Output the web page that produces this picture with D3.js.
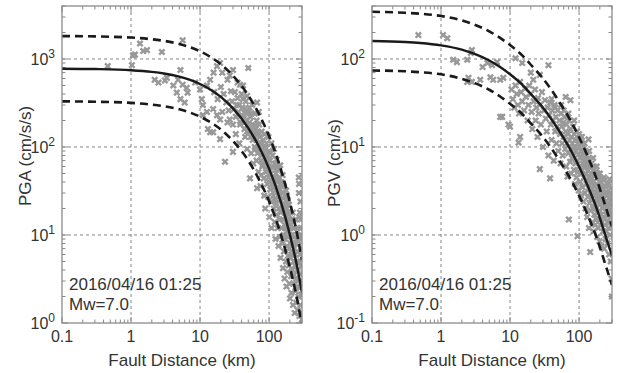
<!DOCTYPE html>
<html>
<head>
<meta charset="utf-8">
<script src="https://cdn.jsdelivr.net/npm/d3@7"></script>
<style>
  body { margin: 0; background: #fff; }
  svg { display: block; }
  text { font-family: "Liberation Sans", Arial, sans-serif; fill: #333; }
</style>
</head>
<body>
<div id="chart"></div>
<script>
// x tick labels shared by both panels
const distTicks = [0.1, 1, 10, 100];
const distTickLabels = ["0.1", "1", "10", "100"];

// PGA attenuation curve (median and +/- 1 sigma)
const pgaCurveDist = [0.1, 0.3, 1, 2, 3, 5, 7, 10, 15, 20, 30, 50, 70, 100, 150, 200, 250, 300];
const pgaMedian = [775, 768, 745, 713, 684, 630, 582, 520, 436, 371, 275, 164, 104, 56.8, 23, 10.1, 4.7, 2.2];
const pgaUpper  = [1821, 1805, 1751, 1676, 1607, 1481, 1368, 1222, 1025, 872, 646, 385, 244, 133, 54, 23.7, 11, 5.2];
const pgaLower  = [330, 327, 317, 303, 291, 268, 248, 221, 186, 158, 117, 70, 44, 24.2, 9.8, 4.3, 2.0, 0.94];

// PGV attenuation curve
const pgvCurveDist = [0.1, 0.3, 0.5, 1, 2, 3, 5, 7, 10, 15, 20, 30, 50, 80, 100, 130, 180, 250, 300];
const pgvMedian = [160, 156, 152, 143, 128, 115, 96, 82, 67, 51, 40, 28, 15.8, 8.5, 6.0, 3.8, 2.0, 0.9, 0.58];
const pgvUpper  = [344, 335, 327, 308, 275, 247, 206, 176, 144, 110, 86, 60, 34, 18.3, 12.9, 8.2, 4.3, 1.94, 1.25];
const pgvLower  = [74, 72.5, 70.7, 67, 59.5, 53.5, 44.7, 38, 31, 23.7, 18.6, 13, 7.35, 3.95, 2.8, 1.77, 0.93, 0.42, 0.27];

// observed PGA [fault distance km, cm/s/s]
const pgaObs = [
  [0.46,830],[1.03,850],[1.07,1100],[1.14,1120],[1.35,1500],[1.5,1230],[1.7,1260],[2.8,1200],[5.6,1630],
  [2.2,580],[2.5,540],[3.1,570],[3.3,610],[5.2,750],[4.8,580],[5.6,510],[6.4,470],[4.1,500],[4.6,415],
  [6.6,415],[5.2,350],[6.0,320],[8.5,540],[10,450],[10.6,350],
  [12.6,500],[14,580],[15.7,700],[17.6,830],[19.5,900],[21,700],[25,580],[27,650],[30,750],
  [11,300],[12.6,250],[15.5,270],[17.6,230],[19.5,205],[21,250],[25,190],[27,205],[30,180],[13,160],[15.5,147],
  [50,790],[38,510],[42,500],[35,540],[48,380],[67,320],[23,68],[19.5,123],[14,147],[11,230],[30,88],
  [16,420],[18,350],[20,480],[22,400],[24,320],[26,260],[28,430],[29,330],[31,270],[33,220],[35,360],[37,300],
  [38,180],[40,230],[42,350],[44,270],[46,200],[48,150],[50,250],[52,190],[54,130],[56,240],[58,180],[60,140],
  [62,100],[64,160],[66,120],[68,85],[70,140],[74,110],[78,80],[80,60],[85,100],[90,75],[95,55],[100,40],
  [105,85],[110,60],[115,45],[120,35],[125,25],[130,60],[135,42],[140,30],[150,40],[160,20],[170,12],[180,28],
  [190,18],[200,12],[210,6],[220,18],[230,12],[240,15],[250,9],[260,12],[265,5],[280,18],[290,15],[295,10],
  [285,24],[275,16],
  [32,420],[34,300],[36,250],[33,140],[37,110],[40,400],[41,280],[43,210],[44,160],[39,190],[46,330],[47,240],
  [49,180],[45,130],[48,95],
  [52,280],[53,44],[54,220],[56,160],[57,300],[58,120],[51,150],[55,85],[59,65],[62,240],[63,175],[61,130],
  [64,95],[66,200],[67,34],[68,150],[69,110],[66,70],[70,52],
  [72,180],[73,130],[74,95],[71,250],[76,70],[77,48],[78,150],[79,110],[75,36],[82,120],[83,85],[81,62],
  [84,44],[85,28],[86,140],[87,95],[88,20],[89,70],[90,52],
  [92,110],[93,80],[94,38],[96,60],[97,27],[98,130],[99,45],[100,90],[101,16],[103,70],[104,33],[106,50],
  [107,24],[108,110],[109,12],
  [112,80],[113,38],[114,58],[116,28],[117,20],[118,95],[119,44],[121,14],[122,65],[123,32],[124,9],[126,50],
  [127,23],[128,72],[129,17],
  [132,40],[133,12],[134,56],[136,28],[137,7.5],[138,20],[139,45],[141,34],[142,15],[143,9.5],[145,62],
  [146,25],[147,5.5],[148,18],[149,38],
  [152,12],[153,30],[155,22],[156,8],[157,48],[158,15],[159,4.2],[161,26],[162,10],[163,36],[164,6.5],
  [166,19],[167,13],[168,3.2],[169,28],
  [172,9],[173,22],[174,16],[176,5],[177,32],[178,11],[179,2.6],[181,20],[182,7.5],[183,14],[184,3.8],
  [186,25],[187,9.5],[188,5.8],[189,17],
  [192,12],[193,4.5],[194,22],[196,7],[197,2.8],[198,15],[199,10],[201,1.9],[203,18],[204,5.5],[206,8],
  [207,13],[209,3.4],[211,2.2],
  [214,10],[215,6],[217,15],[218,4],[220,8],[222,1.6],[223,12],[225,2.8],[227,5],[229,7],[231,3.5],[233,9.5],
  [235,1.3],[237,4.5],[239,6],
  [242,2.3],[244,8],[246,3.2],[248,1.7],[250,5],[253,11],[255,2.6],[257,4],[259,1.4],[262,6.5],[264,3],
  [266,2],[268,8.5],[270,45],[272,38],[271,30],
  [274,4.8],[276,1.2],[278,2.5],[280,6],[282,3.6],[284,1.6],[286,12],[288,9],[290,2.1],[292,4.4],[294,1.3],
  [296,7],[298,3],[299,1.1]
];

// observed PGV [fault distance km, cm/s]
const pgvObs = [
  [0.47,187],[1.07,187],[1.23,172],[1.5,98],[1.7,92],[2.7,117],[2.8,126],[2.4,98],[4,81],[4.7,90],[5.5,85],
  [6.5,92],[2.5,61],[2.8,55],[3.7,58],[2.4,55],[5.2,62],[5.7,58],[7.2,58],[8,61],[7.2,22],[9.5,18],[7.7,22],
  [12,102],[15,90],[36,85],[20,70],[21.7,58],[27,66],[13.3,11.2],[27,5.6],[38,4.4],[64,37],[75,34],[95,12],
  [10,17],[14,13],[137,12.2],
  [40,35],[45,28],[55,30],[60,26],[70,24],[85,20],[100,14],[110,13],[120,11],[140,9],[160,7.5],[180,6],
  [200,5],[230,4.5],[260,3.8],[290,3.4],
  [10.5,45],[11,35],[11.5,28],[12,50],[12.5,40],[13,30],[13.5,24],[14,55],[14.5,42],[15,33],[16,26],[16.5,46],
  [17,37],[18,20],[18.5,30],[19,50],[20,40],[20.5,25],[21,16],[22,33],[23,45],[23.5,20],[24,28],[25,13],
  [25.5,36],[26,24],[27,30],[28,18],[29,42],[30,10],[31,26],[32,34],[33,21],[34,15],[35,28],[36,8],[37,23],
  [38,32],[39,18],[40,12],[41,26],[42,20],[43,7],[44,30],[45,15],[46,22],[47,11],[48,17],[49,26],[50,9],
  [52,20],[53,14],[54,6.5],[55,24],[56,17],[57,11],[58,8],[59,19],[60,13],[62,22],[63,9.5],[64,15],[65,6],
  [66,18],[67,11],[68,4.6],[69,14],[70,8.5],[71,1.5],[72,20],[73,12],[74,6.8],[75,16],[76,9.5],[77,5],[78,13],
  [79,7.5],[80,11],
  [82,17],[83,8],[84,5.5],[85,14],[86,10],[87,3.8],[88,12],[89,6.5],[90,9],[92,4.5],[93,15],[94,7],[95,0.97],
  [96,11],[97,5.2],[98,8.2],[99,3.2],[101,10],[102,6],[103,13],[104,4],[105,7.5],[107,2.8],[108,9],[109,5],
  [110,11],[112,3.5],[113,6.5],[114,8],[116,2.4],[117,10],[118,4.5],[119,5.8],
  [121,7],[122,3],[123,9],[124,2],[125,5],[127,6.2],[128,3.8],[129,8],[131,1.6],[132,4.2],[133,6.8],[134,2.7],
  [136,5.4],[137,3.4],[138,7.5],[139,1.2],[141,4.6],[142,2.3],[143,6],[145,0.64],[146,3],[147,5],[148,1.9],
  [149,3.9],
  [152,6.5],[153,2.6],[154,4.4],[156,1.4],[157,3.4],[158,5.4],[159,2],[161,4],[162,1.1],[163,2.9],[164,6],
  [166,1.7],[167,3.6],[168,2.3],[169,4.8],
  [172,1.3],[173,3],[174,5.2],[176,2],[177,3.8],[178,1.5],[179,2.6],[181,4.4],[183,0.95],[184,3.3],[186,1.8],
  [187,5],[188,2.4],[189,1.2],
  [192,3.6],[193,1.5],[194,2.8],[196,4.5],[197,1.9],[198,0.85],[199,2.2],[202,3.2],[204,1.3],[206,2.5],[208,4],
  [210,1.7],[212,0.75],[214,2.9],[216,1.4],[218,3.5],[220,2],
  [223,1.1],[225,2.6],[227,4.2],[229,1.6],[231,0.7],[233,3],[235,2.1],[237,1.3],[240,3.6],[242,0.9],[244,2.4],
  [246,1.7],[248,3.1],[250,1.1],
  [253,2],[255,2.8],[257,1.4],[259,0.8],[262,2.2],[264,3.6],[266,1.7],[268,1.2],[270,2.6],[272,0.6],[274,1.9],
  [276,4.3],[278,1.4],[280,3],[282,1],[284,2.2],[286,1.6],[288,0.5],[290,2.5],[292,1.26],[294,1.8],[296,0.32],
  [298,2.9],[299,0.2]
];

const eventDate = "2016/04/16 01:25";
const eventMag = "Mw=7.0";

const W = 617, H = 373;
const svg = d3.select("#chart").append("svg").attr("width", W).attr("height", H);

function drawPanel(p) {
  const x = d3.scaleLog().domain([0.1, 300]).range([p.left, p.right]);
  const y = d3.scaleLog().domain(p.yDomain).range([p.bottom, p.top]);
  const g = svg.append("g");

  const clipId = "clip-" + p.id;
  svg.append("clipPath").attr("id", clipId).append("rect")
    .attr("x", p.left).attr("y", p.top)
    .attr("width", p.right - p.left).attr("height", p.bottom - p.top);

  // decade grid
  const yMajors = p.yExps.map(e => Math.pow(10, e));
  g.selectAll(".gx").data(distTicks.slice(1)).enter().append("line")
    .attr("x1", d => x(d)).attr("x2", d => x(d))
    .attr("y1", p.top).attr("y2", p.bottom)
    .attr("stroke", "#777").attr("stroke-width", 0.9).attr("stroke-dasharray", "3,3");
  g.selectAll(".gy").data(yMajors.slice(1)).enter().append("line")
    .attr("x1", p.left).attr("x2", p.right)
    .attr("y1", d => y(d)).attr("y2", d => y(d))
    .attr("stroke", "#777").attr("stroke-width", 0.9).attr("stroke-dasharray", "3,3");

  // minor/major ticks on all sides
  const xMinor = [];
  [0.1, 1, 10, 100].forEach(b => { for (let m = 2; m <= 9; m++) if (b * m <= 300) xMinor.push(b * m); });
  const yMinor = [];
  p.yExps.forEach(e => { for (let m = 2; m <= 9; m++) { const v = m * Math.pow(10, e); if (v <= p.yDomain[1]) yMinor.push(v); } });

  const tk = g.append("g").attr("stroke", "#888").attr("stroke-width", 1);
  function xTick(v, len) {
    tk.append("line").attr("x1", x(v)).attr("x2", x(v)).attr("y1", p.bottom).attr("y2", p.bottom - len);
    tk.append("line").attr("x1", x(v)).attr("x2", x(v)).attr("y1", p.top).attr("y2", p.top + len);
  }
  function yTick(v, len) {
    tk.append("line").attr("y1", y(v)).attr("y2", y(v)).attr("x1", p.left).attr("x2", p.left + len);
    tk.append("line").attr("y1", y(v)).attr("y2", y(v)).attr("x1", p.right).attr("x2", p.right - len);
  }
  xMinor.forEach(v => xTick(v, 3.5));
  distTicks.forEach(v => xTick(v, 6));
  yMinor.forEach(v => yTick(v, 3.5));
  yMajors.forEach(v => yTick(v, 6));

  // observations
  const pts = g.append("g").attr("clip-path", `url(#${clipId})`);
  pts.selectAll("path").data(p.obs).enter().append("path")
    .attr("transform", d => `translate(${x(d[0])},${y(d[1])})`)
    .attr("d", "M-2.7,-2.7L2.7,2.7M-2.7,2.7L2.7,-2.7")
    .attr("stroke", "#999").attr("stroke-width", 2.4).attr("fill", "none");

  // attenuation curves
  const line = d3.line()
    .x(d => x(d[0])).y(d => y(d[1]))
    .curve(d3.curveMonotoneX);
  const curves = g.append("g").attr("clip-path", `url(#${clipId})`).attr("fill", "none");
  const toPairs = vals => p.dist.map((d, i) => [d, vals[i]]);
  curves.append("path").attr("d", line(toPairs(p.upper)))
    .attr("stroke", "#1a1a1a").attr("stroke-width", 2.6).attr("stroke-dasharray", "8,5");
  curves.append("path").attr("d", line(toPairs(p.lower)))
    .attr("stroke", "#1a1a1a").attr("stroke-width", 2.6).attr("stroke-dasharray", "8,5");
  curves.append("path").attr("d", line(toPairs(p.median)))
    .attr("stroke", "#1a1a1a").attr("stroke-width", 2.4);

  // frame
  g.append("rect").attr("x", p.left).attr("y", p.top)
    .attr("width", p.right - p.left).attr("height", p.bottom - p.top)
    .attr("fill", "none").attr("stroke", "#8a8a8a").attr("stroke-width", 1.3);

  // tick labels
  g.selectAll(".xl").data(distTicks).enter().append("text")
    .attr("x", d => x(d)).attr("y", 342)
    .attr("text-anchor", "middle").attr("font-size", 16)
    .text((d, i) => distTickLabels[i]);

  p.yExps.forEach(e => {
    const t = g.append("text")
      .attr("x", p.left - 7).attr("y", y(Math.pow(10, e)) + 6)
      .attr("text-anchor", "end").attr("font-size", 16);
    t.append("tspan").text("10");
    t.append("tspan").attr("dy", -7).attr("font-size", 12).text(String(e));
  });

  // axis titles
  g.append("text")
    .attr("x", (p.left + p.right) / 2).attr("y", 366)
    .attr("text-anchor", "middle").attr("font-size", 17)
    .text("Fault Distance (km)");
  g.append("text")
    .attr("transform", `translate(${p.titleX},${p.titleY}) rotate(-90)`)
    .attr("text-anchor", "middle").attr("font-size", 17)
    .text(p.yTitle);

  // event annotation
  g.append("text").attr("x", p.left + 7).attr("y", 290).attr("font-size", 17).text(eventDate);
  g.append("text").attr("x", p.left + 7).attr("y", 310).attr("font-size", 17).text(eventMag);
}

drawPanel({
  id: "pga", left: 62, right: 302, top: 6, bottom: 323,
  yDomain: [1, 4000], yExps: [0, 1, 2, 3],
  yTitle: "PGA (cm/s/s)", titleX: 31, titleY: 156,
  obs: pgaObs, dist: pgaCurveDist, median: pgaMedian, upper: pgaUpper, lower: pgaLower
});

drawPanel({
  id: "pgv", left: 372, right: 612, top: 6, bottom: 323,
  yDomain: [0.1, 400], yExps: [-1, 0, 1, 2],
  yTitle: "PGV (cm/s)", titleX: 340, titleY: 163,
  obs: pgvObs, dist: pgvCurveDist, median: pgvMedian, upper: pgvUpper, lower: pgvLower
});
</script>
</body>
</html>
